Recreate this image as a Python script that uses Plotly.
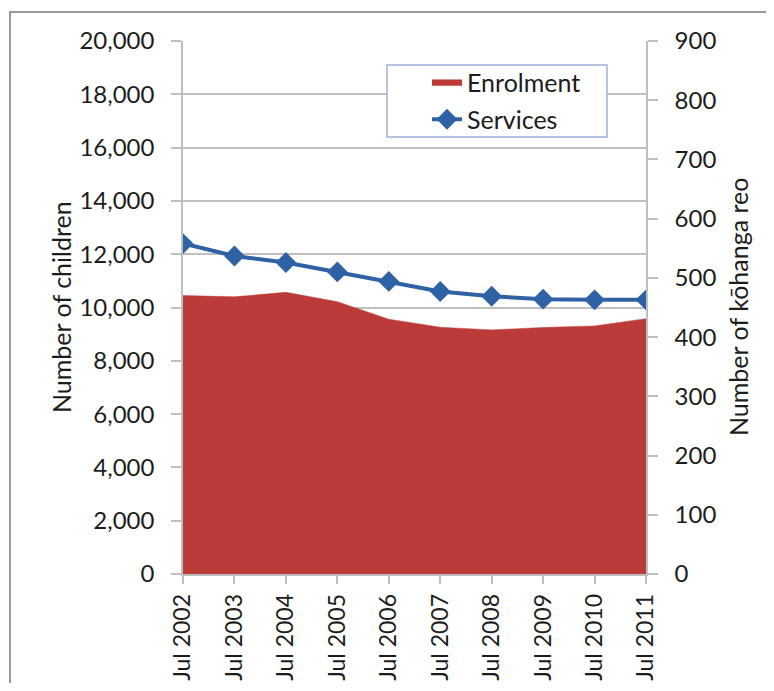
import plotly.graph_objects as go

categories = ["Jul 2002", "Jul 2003", "Jul 2004", "Jul 2005", "Jul 2006",
              "Jul 2007", "Jul 2008", "Jul 2009", "Jul 2010", "Jul 2011"]
enrolment = [10450, 10400, 10570, 10220, 9560, 9260, 9160, 9250, 9310, 9580]
services = [558, 537, 526, 510, 494, 477, 469, 464, 463, 463]
left_ticks = list(range(0, 20001, 2000))
right_ticks = list(range(0, 901, 100))

OFF = 8  # page body margin
W, H = 774 - 2 * OFF, 691 - 2 * OFF
L, R, T, B = 183 - OFF, 646 - OFF, 41 - OFF, 574 - OFF  # plot area pixels


def px_x(p):
    return (p - OFF - L) / (R - L)


def px_y(p):
    return (B - (p - OFF)) / (B - T)


FONT = "Lato"
TXT = "#1c1c1c"
GRID = "#BFBFBF"
RED = "#BA3B37"
BLUE = "#2E62A5"

fig = go.Figure()
fig.add_trace(go.Scatter(
    x=categories, y=enrolment, name="Enrolment", mode="lines",
    fill="tozeroy", fillcolor=RED, line=dict(color=RED, width=0.5),
    legendgroup="a", yaxis="y"))
fig.add_trace(go.Scatter(
    x=categories, y=services, name="Services", mode="lines+markers",
    line=dict(color=BLUE, width=4),
    marker=dict(symbol="diamond", size=16, color=BLUE),
    legendgroup="b", yaxis="y2"))

fig.update_layout(
    width=W, height=H, autosize=False,
    margin=dict(l=L, r=W - R, t=T, b=H - B, autoexpand=False),
    paper_bgcolor="white", plot_bgcolor="white",
    font=dict(family=FONT, size=24, color=TXT),
    xaxis=dict(type="category", range=[0, 9], tickangle=-90,
               automargin=False,
               showgrid=False, showline=True, linecolor=GRID, linewidth=1.5,
               ticks="outside", ticklen=8, tickcolor=GRID, tickwidth=1.5,
               ticklabelstandoff=1,
               tickfont=dict(family=FONT, size=23, color=TXT)),
    yaxis=dict(range=[0, 20000], tickvals=left_ticks, automargin=False,
               tickformat=",d", showgrid=True, gridcolor=GRID, gridwidth=1.5,
               showline=True, linecolor=GRID, linewidth=1.5,
               ticks="outside", ticklen=10, tickcolor=GRID, tickwidth=1.5,
               ticklabelstandoff=12, zeroline=False,
               tickfont=dict(family=FONT, size=24, color=TXT)),
    yaxis2=dict(range=[0, 900], tickvals=right_ticks, overlaying="y",
                side="right", showgrid=False, automargin=False,
                showline=True, linecolor=GRID, linewidth=1.5,
                ticks="outside", ticklen=10, tickcolor=GRID, tickwidth=1.5,
                ticklabelstandoff=12, zeroline=False,
                tickfont=dict(family=FONT, size=24, color=TXT)),
    legend=dict(x=px_x(427), y=px_y(59), xanchor="left", yanchor="top",
                bgcolor="rgba(0,0,0,0)", borderwidth=0,
                tracegroupgap=2,
                font=dict(family=FONT, size=25, color=TXT)),
    showlegend=True,
)

# outer chart frame
fig.add_shape(type="rect", xref="paper", yref="paper",
              x0=px_x(10), x1=px_x(800), y0=px_y(720), y1=px_y(12),
              line=dict(color="#9A9A9A", width=2), fillcolor="rgba(0,0,0,0)",
              layer="below")
# legend frame
fig.add_shape(type="rect", xref="paper", yref="paper",
              x0=px_x(387), x1=px_x(607), y0=px_y(137), y1=px_y(65),
              line=dict(color="#9DB2D8", width=1.5), fillcolor="white",
              layer="above")

fig.add_annotation(text="Number of children", xref="paper", yref="paper",
                   x=px_x(61), y=px_y(307), textangle=-90, showarrow=False,
                   xanchor="center", yanchor="middle",
                   font=dict(family=FONT, size=25, color=TXT))
fig.add_annotation(text="Number of kōhanga reo", xref="paper", yref="paper",
                   x=px_x(738), y=px_y(307), textangle=-90, showarrow=False,
                   xanchor="center", yanchor="middle",
                   font=dict(family=FONT, size=25, color=TXT))

fig.write_html("out.html")
